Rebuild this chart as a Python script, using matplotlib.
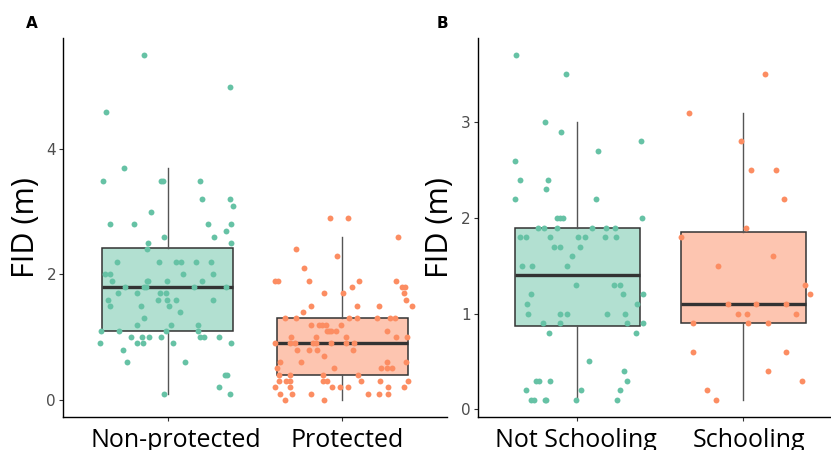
import numpy as np
import matplotlib
matplotlib.use("Agg")
import matplotlib.pyplot as plt
from matplotlib.transforms import ScaledTranslation

# Panel A : FID per protection status (values + jitter offsets)
np_vals = [5.5, 5.0, 4.6, 3.7, 3.5, 3.5, 3.5, 3.5, 3.2, 3.2, 3.1, 3.0, 2.8, 2.8, 2.8, 2.8, 2.7,
           2.6, 2.6, 2.5, 2.5, 2.4,
           2.2, 2.2, 2.2, 2.2, 2.2, 2.2, 2.0, 2.0, 2.0, 2.0, 1.9, 1.9, 1.9, 1.9, 1.9,
           1.8, 1.8, 1.8, 1.8, 1.8, 1.7, 1.7, 1.7, 1.7, 1.6, 1.6, 1.6, 1.6, 1.6,
           1.5, 1.5, 1.5, 1.4, 1.3, 1.2, 1.2, 1.2, 1.1, 1.1, 1.1, 1.1,
           1.0, 1.0, 1.0, 1.0, 1.0, 1.0, 1.0, 0.9, 0.9, 0.9, 0.9, 0.9,
           0.8, 0.6, 0.6, 0.4, 0.4, 0.2, 0.1, 0.1]
np_jit = [-0.135, 0.355, -0.354, -0.253, -0.373, -0.039, -0.028, 0.185, 0.196, 0.357, 0.372, -0.096,
          -0.331, -0.194, 0.229, 0.362, 0.334, 0.267, -0.022, -0.110, 0.361, -0.118,
          -0.290, -0.052, 0.045, 0.074, 0.163, 0.246, -0.360, -0.333, 0.089, 0.261,
          -0.318, -0.118, -0.112, -0.005, 0.196,
          -0.247, -0.136, -0.125, 0.152, 0.332, -0.284, -0.178, -0.043, -0.012,
          -0.341, -0.054, -0.003, 0.045, 0.257,
          -0.330, -0.154, 0.005, 0.072, -0.138, -0.178, 0.020, 0.175, -0.381, -0.280, -0.009, 0.171,
          -0.211, -0.146, -0.108, -0.037, 0.186, 0.209, 0.292, -0.387, -0.177, -0.142, 0.032, 0.364,
          -0.257, -0.234, 0.099, 0.330, 0.339, 0.295, -0.020, 0.357]

p_vals = [2.9, 2.9, 2.6, 2.4, 2.3, 2.1, 1.9, 1.9, 1.9, 1.9, 1.9, 1.8, 1.8, 1.8, 1.7, 1.7, 1.7, 1.6,
          1.5, 1.5, 1.5, 1.5, 1.4, 1.3, 1.3, 1.3, 1.3, 1.3, 1.3, 1.3,
          1.2, 1.2, 1.2, 1.2, 1.2, 1.1, 1.1, 1.1, 1.1, 1.1, 1.0, 1.0, 1.0, 1.0, 1.0,
          0.9, 0.9, 0.9, 0.9, 0.9, 0.9, 0.9, 0.9, 0.8, 0.8, 0.8, 0.8, 0.7,
          0.6, 0.6, 0.6, 0.6, 0.5, 0.5, 0.5, 0.5, 0.5, 0.4, 0.4, 0.4, 0.4,
          0.3, 0.3, 0.3, 0.3, 0.3, 0.3, 0.3, 0.3, 0.2, 0.2, 0.2, 0.2, 0.2, 0.2, 0.2,
          0.1, 0.1, 0.1, 0.1, 0.1, 0.1, 0.0, 0.0]
p_jit = [-0.072, 0.033, 0.318, -0.263, -0.028, -0.219, -0.384, -0.368, -0.192, 0.095, 0.307,
         0.056, 0.341, 0.360, 0.354, -0.103, 0.003, 0.366, -0.181, 0.087, 0.209, 0.399, -0.223,
         -0.328, -0.263, 0.037, 0.083, 0.198, 0.276, 0.301,
         -0.177, -0.131, -0.116, -0.095, -0.009, -0.087, -0.076, -0.066, -0.034, 0.257,
         -0.295, -0.152, 0.024, 0.307, 0.372,
         -0.384, -0.298, -0.269, -0.167, -0.150, -0.064, 0.024, 0.066, -0.261, -0.192, -0.146, 0.064,
         -0.103, -0.355, -0.236, 0.259, 0.366, -0.376, -0.045, 0.221, 0.259, 0.287,
         -0.364, -0.298, -0.108, 0.091,
         -0.362, -0.322, -0.299, -0.110, -0.085, 0.106, 0.215, 0.376,
         -0.384, -0.301, -0.057, -0.013, 0.035, 0.264, 0.353,
         -0.355, -0.286, -0.177, 0.150, 0.209, 0.264, -0.328, -0.104]

# Panel B : FID per schooling behaviour
ns_vals = [3.7, 3.5, 3.0, 2.9, 2.8, 2.7, 2.6, 2.4, 2.4, 2.3, 2.2, 2.2, 2.0, 2.0, 2.0, 2.0,
           1.9, 1.9, 1.9, 1.9, 1.9, 1.9, 1.8, 1.8, 1.8, 1.8, 1.8, 1.8, 1.8, 1.7, 1.7, 1.7, 1.6,
           1.5, 1.5, 1.5, 1.3, 1.3, 1.3, 1.2, 1.2, 1.2, 1.1, 1.1, 1.0, 1.0, 1.0, 1.0, 1.0,
           0.9, 0.9, 0.9, 0.9, 0.8, 0.8, 0.5, 0.4, 0.3, 0.3, 0.3, 0.3, 0.2, 0.2, 0.2,
           0.1, 0.1, 0.1, 0.1, 0.1, 0.1]
ns_jit = [-0.371, -0.068, -0.194, -0.096, 0.383, 0.126, -0.375, -0.345, -0.174, -0.190, -0.373, 0.114,
          -0.124, -0.104, -0.088, 0.391, -0.238, -0.200, -0.124, 0.087, 0.171, 0.229,
          -0.347, -0.310, -0.162, 0.002, 0.048, 0.165, 0.235, -0.140, -0.104, 0.016, -0.034,
          -0.335, -0.274, -0.062, -0.010, 0.223, 0.255, -0.277, 0.277, 0.395, -0.303, 0.361,
          -0.297, -0.104, -0.062, 0.179, 0.287, -0.208, -0.104, 0.297, 0.397, -0.172, 0.355,
          0.072, 0.279, -0.250, -0.230, -0.162, 0.299, -0.307, 0.020, 0.259,
          -0.280, -0.259, -0.196, -0.188, -0.008, 0.237]

s_vals = [3.5, 3.1, 2.8, 2.5, 2.5, 2.2, 1.9, 1.8, 1.6, 1.5, 1.3, 1.2, 1.1, 1.1, 1.1,
          1.0, 1.0, 1.0, 0.9, 0.9, 0.9, 0.6, 0.6, 0.4, 0.3, 0.2, 0.1]
s_jit = [0.131, -0.326, -0.015, 0.045, 0.197, 0.245, 0.013, -0.374, 0.176, -0.153, 0.374, 0.400,
         -0.091, 0.077, 0.258, -0.035, 0.023, 0.316, -0.306, 0.029, 0.147, -0.304, 0.258,
         0.149, 0.354, -0.218, -0.167]

# box statistics : whisker low, Q1, median, Q3, whisker high
box_a = [[0.1, 1.1, 1.8, 2.425, 3.7], [0.0, 0.4, 0.9, 1.3, 2.6]]
box_b = [[0.1, 0.87, 1.4, 1.9, 3.0], [0.1, 0.9, 1.1, 1.85, 3.1]]

labels_a = ['Non-protected', 'Protected']
labels_b = ['Not Schooling', 'Schooling']
colors = ['#66C2A5', '#FC8D62']

W, H = 831, 450
fig = plt.figure(figsize=(W / 100, H / 100), dpi=100)
ax_a = fig.add_axes([63 / W, 33 / H, 383.8 / W, 379 / H])
ax_b = fig.add_axes([477.6 / W, 33 / H, 365.4 / W, 379 / H])


def draw_panel(ax, boxes, groups, labels, yticks, shifts):
    stats = []
    for b in boxes:
        stats.append(dict(whislo=b[0], q1=b[1], med=b[2], q3=b[3], whishi=b[4]))
    bp = ax.bxp(stats, positions=[1, 2], widths=0.75, patch_artist=True,
                showfliers=False, showcaps=False,
                medianprops=dict(color='#333333', linewidth=2.4, solid_capstyle='butt'),
                whiskerprops=dict(color='#555555', linewidth=1.0),
                boxprops=dict(edgecolor='#333333', linewidth=1.1))
    for patch, c in zip(bp['boxes'], colors):
        patch.set_facecolor(matplotlib.colors.to_rgba(c, 0.5))
    for i, (vals, jit) in enumerate(groups):
        ax.scatter(np.array(jit) + i + 1, vals, s=18, color=colors[i], linewidths=0, zorder=3)

    allv = np.concatenate([g[0] for g in groups])
    rng = allv.max() - allv.min()
    ax.set_ylim(allv.min() - 0.05 * rng, allv.max() + 0.05 * rng)
    ax.set_xlim(0.4, 2.6)
    ax.set_xticks([1, 2])
    ax.set_xticklabels([])
    # category labels drawn as text: the original ones sit a little right of their ticks
    for i, (lab, dx) in enumerate(zip(labels, shifts)):
        tr = ax.get_xaxis_transform() + ScaledTranslation(dx / 100, -8 / 72, fig.dpi_scale_trans)
        ax.text(i + 1, 0, lab, transform=tr, ha='center', va='top',
                fontsize=18, family='Open Sans', color='black')
    ax.set_yticks(yticks)
    ax.set_yticklabels([str(t) for t in yticks], fontsize=11, color='#4D4D4D')
    ax.set_ylabel('FID (m)', fontsize=22, family='Open Sans', labelpad=4)
    ax.tick_params(length=3, width=0.8, color='#333333', pad=2)
    for s in ['top', 'right']:
        ax.spines[s].set_visible(False)
    for s in ['left', 'bottom']:
        ax.spines[s].set_linewidth(1.0)


draw_panel(ax_a, box_a, [(np_vals, np_jit), (p_vals, p_jit)], labels_a, [0, 2, 4], [8, 4.5])
draw_panel(ax_b, box_b, [(ns_vals, ns_jit), (s_vals, s_jit)], labels_b, [0, 1, 2, 3], [-1, 6])

fig.text(32 / W, 1 - 23 / H, 'A', fontsize=11, fontweight='bold', ha='center', va='center')
fig.text(442 / W, 1 - 23 / H, 'B', fontsize=11, fontweight='bold', ha='center', va='center')

fig.savefig('out.png', dpi=100)
